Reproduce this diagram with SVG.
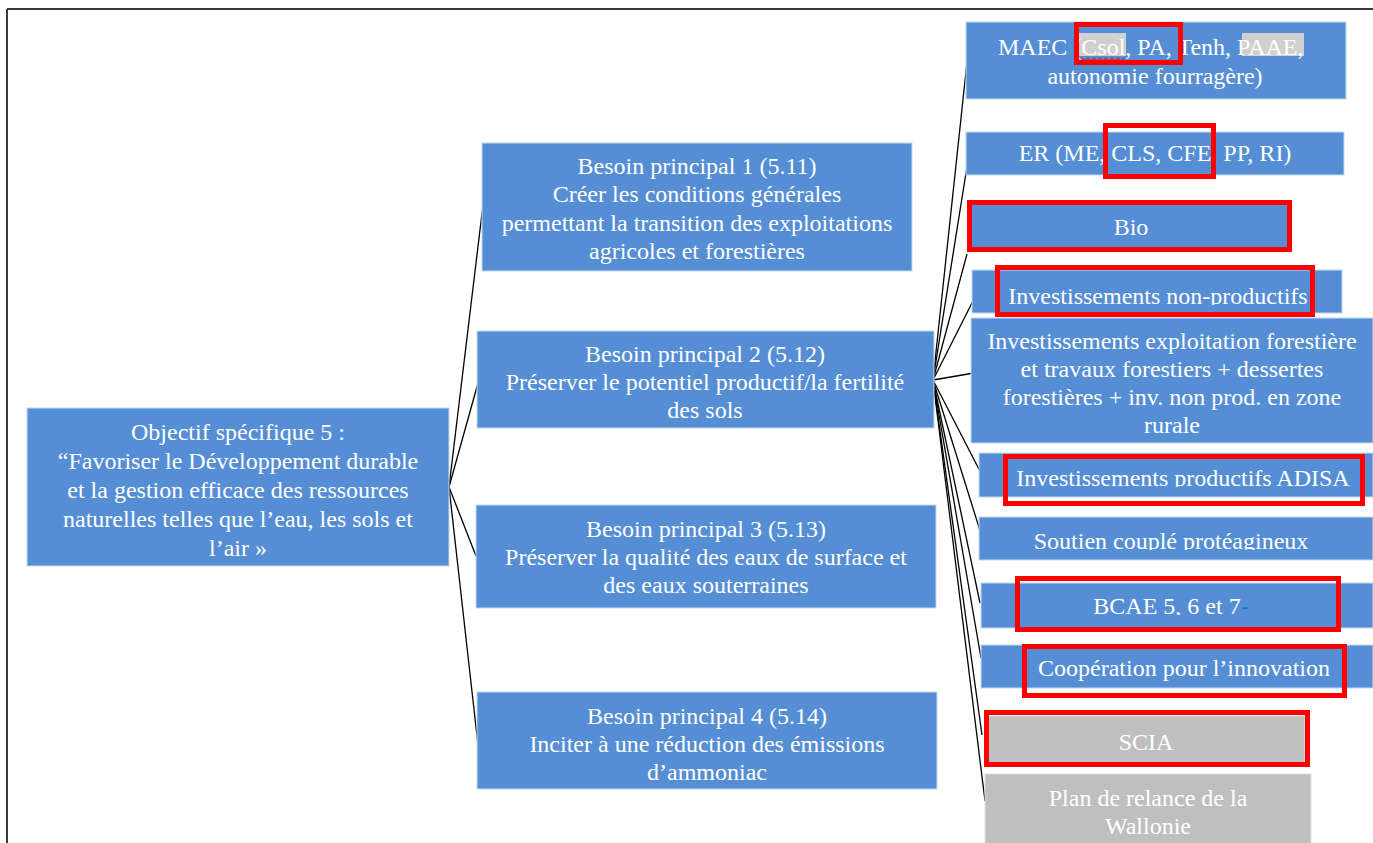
<svg xmlns="http://www.w3.org/2000/svg" width="1373" height="843" viewBox="0 0 1373 843">
  <defs>
    <style>
      .box { fill: #558ED5; stroke: #C6D9F1; stroke-width: 1; }
      .grey { fill: #BFBFBF; stroke: #E0E0E0; stroke-width: 1; }
      .t { font-family: "Liberation Serif", "Times New Roman", serif; font-size: 24px; fill: #FFFFFF; text-anchor: middle; }
      .ts { text-anchor: start; }
      .link { stroke: #000000; stroke-width: 1.3; fill: none; }
      .mark { fill: none; stroke: #FF0000; stroke-width: 5; }
      .hl { fill: #D0D0D0; }
    </style>
    <!-- text frames that cut the lines just under the baseline -->
    <clipPath id="clipNonProd"><rect x="972" y="270" width="370" height="35"/></clipPath>
    <clipPath id="clipAdisa"><rect x="979" y="453" width="394" height="34"/></clipPath>
    <clipPath id="clipSoutien"><rect x="979" y="517" width="394" height="33"/></clipPath>
    <clipPath id="clipBcae"><rect x="981" y="583" width="392" height="32"/></clipPath>
  </defs>

  <rect x="0" y="0" width="1373" height="843" fill="#FFFFFF"/>

  <!-- page frame -->
  <g id="frame">
    <line x1="7" y1="9" x2="1373" y2="9" stroke="#3A3A3A" stroke-width="2"/>
    <line x1="7" y1="9" x2="7" y2="843" stroke="#3A3A3A" stroke-width="2"/>
  </g>

  <!-- connectors -->
  <g id="connectors">
    <line class="link" x1="449" y1="487" x2="483" y2="205"/>
    <line class="link" x1="449" y1="487" x2="478" y2="383"/>
    <line class="link" x1="449" y1="487" x2="476" y2="556"/>
    <line class="link" x1="449" y1="487" x2="478" y2="745"/>

    <line class="link" x1="933" y1="380" x2="967" y2="62"/>
    <line class="link" x1="933" y1="380" x2="969" y2="154"/>
    <line class="link" x1="933" y1="380" x2="967" y2="254"/>
    <line class="link" x1="933" y1="380" x2="975" y2="297"/>
    <line class="link" x1="933" y1="380" x2="974" y2="373"/>
    <line class="link" x1="933" y1="380" x2="983" y2="477"/>
    <line class="link" x1="933" y1="380" x2="982" y2="537"/>
    <line class="link" x1="933" y1="380" x2="980" y2="603"/>
    <line class="link" x1="933" y1="380" x2="981" y2="658"/>
    <line class="link" x1="933" y1="380" x2="982" y2="735"/>
    <line class="link" x1="933" y1="380" x2="985" y2="801"/>
  </g>

  <!-- objective -->
  <g id="objectif">
    <rect class="box" x="27" y="408" width="422" height="158"/>
    <text class="t" x="238" y="440">Objectif spécifique 5 :</text>
    <text class="t" x="238" y="469">“Favoriser le Développement durable</text>
    <text class="t" x="238" y="498">et la gestion efficace des ressources</text>
    <text class="t" x="238" y="527">naturelles telles que l’eau, les sols et</text>
    <text class="t" x="238" y="556">l’air »</text>
  </g>

  <!-- needs -->
  <g id="besoin1">
    <rect class="box" x="482" y="143" width="430" height="128"/>
    <text class="t" x="697" y="174">Besoin principal 1 (5.11)</text>
    <text class="t" x="697" y="202">Créer les conditions générales</text>
    <text class="t" x="697" y="231">permettant la transition des exploitations</text>
    <text class="t" x="697" y="259">agricoles et forestières</text>
  </g>
  <g id="besoin2">
    <rect class="box" x="477" y="331" width="457" height="97"/>
    <text class="t" x="705" y="362">Besoin principal 2 (5.12)</text>
    <text class="t" x="705" y="390">Préserver le potentiel productif/la fertilité</text>
    <text class="t" x="705" y="418">des sols</text>
  </g>
  <g id="besoin3">
    <rect class="box" x="476" y="505" width="460" height="103"/>
    <text class="t" x="706" y="537">Besoin principal 3 (5.13)</text>
    <text class="t" x="706" y="565">Préserver la qualité des eaux de surface et</text>
    <text class="t" x="706" y="593">des eaux souterraines</text>
  </g>
  <g id="besoin4">
    <rect class="box" x="477" y="692" width="460" height="97"/>
    <text class="t" x="707" y="724">Besoin principal 4 (5.14)</text>
    <text class="t" x="707" y="752">Inciter à une réduction des émissions</text>
    <text class="t" x="707" y="780">d’ammoniac</text>
  </g>

  <!-- measures -->
  <g id="maec">
    <rect class="box" x="966" y="22" width="380" height="77"/>
    <rect class="hl" x="1078" y="33" width="48" height="23"/>
    <rect class="hl" x="1242" y="33" width="62" height="23"/>
    <text class="t ts" x="998" y="55">MAEC (Csol, PA, Tenh, PAAE,</text>
    <path d="M1082 58 l3 3 l3 -3 l3 3 l3 -3 l3 3 l3 -3 l3 3 l3 -3 l3 3 l3 -3 l3 3 l3 -3 l3 3 l3 -3" fill="none" stroke="#E02020" stroke-width="1.2"/>
    <text class="t" x="1155" y="84">autonomie fourragère)</text>
  </g>
  <g id="er">
    <rect class="box" x="966" y="132" width="378" height="43"/>
    <text class="t" x="1155" y="161">ER (ME, CLS, CFE, PP, RI)</text>
  </g>
  <g id="bio">
    <rect class="box" x="970" y="204" width="318" height="44"/>
    <text class="t" x="1131" y="235">Bio</text>
  </g>
  <g id="non-productifs">
    <rect class="box" x="972" y="270" width="370" height="43"/>
    <text class="t" x="1158" y="304" clip-path="url(#clipNonProd)">Investissements non-productifs</text>
  </g>
  <g id="forestier">
    <rect class="box" x="971" y="318" width="402" height="125"/>
    <text class="t" x="1172" y="349">Investissements exploitation forestière</text>
    <text class="t" x="1172" y="377">et travaux forestiers + dessertes</text>
    <text class="t" x="1172" y="405">forestières + inv. non prod. en zone</text>
    <text class="t" x="1172" y="433">rurale</text>
  </g>
  <g id="adisa">
    <rect class="box" x="979" y="453" width="394" height="44"/>
    <text class="t" x="1183" y="486" clip-path="url(#clipAdisa)">Investissements productifs ADISA</text>
  </g>
  <g id="soutien">
    <rect class="box" x="979" y="517" width="394" height="43"/>
    <text class="t" x="1171" y="549" clip-path="url(#clipSoutien)">Soutien couplé protéagineux</text>
  </g>
  <g id="bcae">
    <rect class="box" x="981" y="583" width="392" height="45"/>
    <text class="t" x="1171" y="614" clip-path="url(#clipBcae)">BCAE 5, 6 et 7<tspan fill="#1F6FD0">-</tspan></text>
  </g>
  <g id="cooperation">
    <rect class="box" x="981" y="645" width="392" height="43"/>
    <text class="t" x="1184" y="676">Coopération pour l’innovation</text>
  </g>
  <g id="scia">
    <rect class="grey" x="987" y="716" width="318" height="47"/>
    <text class="t" x="1146" y="750">SCIA</text>
  </g>
  <g id="plan-relance">
    <rect class="grey" x="985" y="774" width="326" height="75"/>
    <text class="t" x="1148" y="806">Plan de relance de la</text>
    <text class="t" x="1148" y="834">Wallonie</text>
  </g>

  <!-- red review frames -->
  <g id="review-marks">
    <rect class="mark" x="1076.5" y="24.5" width="104" height="38"/>
    <rect class="mark" x="1105.5" y="125.5" width="108" height="51"/>
    <rect class="mark" x="969.5" y="202.5" width="320" height="47"/>
    <rect class="mark" x="997.5" y="267.5" width="315" height="47"/>
    <rect class="mark" x="1005.5" y="456.5" width="357" height="47"/>
    <rect class="mark" x="1017.5" y="578.5" width="321" height="51"/>
    <rect class="mark" x="1024.5" y="646.5" width="320" height="49"/>
    <rect class="mark" x="986.5" y="712.5" width="321" height="52"/>
  </g>
</svg>
